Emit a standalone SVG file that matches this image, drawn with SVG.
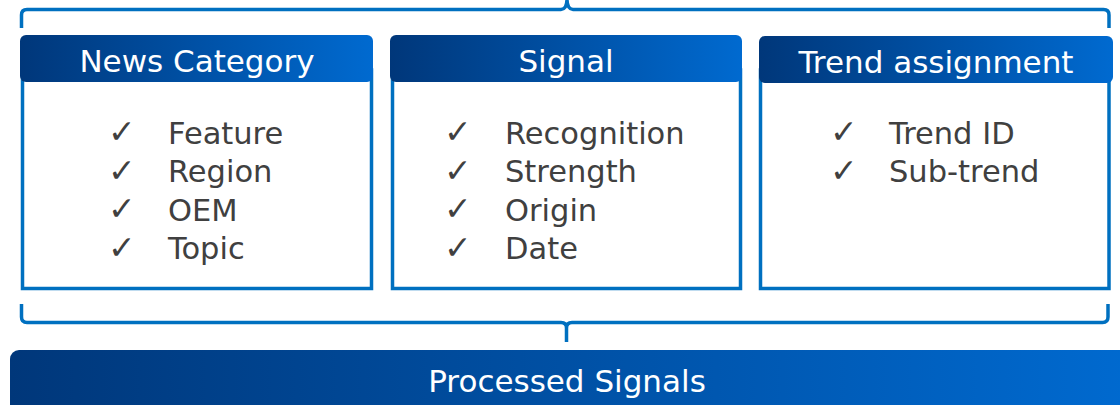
<svg xmlns="http://www.w3.org/2000/svg" width="1120" height="405" viewBox="0 0 1120 405">
  <defs>
    <linearGradient id="hdr" x1="0" y1="0" x2="1" y2="0">
      <stop offset="0" stop-color="#00377a"/>
      <stop offset="1" stop-color="#006ad0"/>
    </linearGradient>
    <style>
      .body { fill: #ffffff; stroke: #0070c0; stroke-width: 3.5; }
      .hdr { fill: url(#hdr); }
      .ht { font-family: "DejaVu Sans", Verdana, sans-serif; font-size: 31px; fill: #ffffff; text-anchor: middle; }
      .it { font-family: "DejaVu Sans", Verdana, sans-serif; font-size: 30.5px; fill: #404040; }
      .ck { font-family: "DejaVu Sans", sans-serif; font-size: 33px; fill: #404040; }
    </style>
    <style>
      .brace { fill: none; stroke: #0070c0; stroke-width: 3.5; stroke-linejoin: round; }
    </style>
  </defs>
  <rect width="1120" height="405" fill="#ffffff"/>

  <g id="connectors">
    <path class="brace" d="M21.5,28 V15 Q21.5,9.5 27,9.5 H561 Q566.5,9.5 567,0 M567,0 Q567.5,9.5 573,9.5 H1103.5 Q1109,9.5 1109,15 V28"/>
    <path class="brace" d="M21.5,304 V317 Q21.5,322.5 27,322.5 H561 Q566.5,322.5 566.5,328 V342 M566.5,328 Q566.5,322.5 572,322.5 H1102.5 Q1108,322.5 1108,317 V304"/>
  </g>

  <g id="news-category">
    <rect class="body" x="22.5" y="70" width="349" height="218.5"/>
    <rect class="hdr" x="20" y="35" width="353" height="47" rx="6"/>
    <text class="ht" x="197" y="72">News Category</text>
    <text class="ck" x="108" y="143">✓</text><text class="it" x="168" y="143.5">Feature</text>
    <text class="ck" x="108" y="181.5">✓</text><text class="it" x="168" y="182">Region</text>
    <text class="ck" x="108" y="220">✓</text><text class="it" x="168" y="220.5">OEM</text>
    <text class="ck" x="108" y="258.5">✓</text><text class="it" x="168" y="259">Topic</text>
  </g>

  <g id="signal">
    <rect class="body" x="392.5" y="70" width="348" height="218.5"/>
    <rect class="hdr" x="390" y="35" width="352" height="47" rx="6"/>
    <text class="ht" x="566" y="72">Signal</text>
    <text class="ck" x="444" y="143">✓</text><text class="it" x="505" y="143.5">Recognition</text>
    <text class="ck" x="444" y="181.5">✓</text><text class="it" x="505" y="182">Strength</text>
    <text class="ck" x="444" y="220">✓</text><text class="it" x="505" y="220.5">Origin</text>
    <text class="ck" x="444" y="258.5">✓</text><text class="it" x="505" y="259">Date</text>
  </g>

  <g id="trend-assignment">
    <rect class="body" x="760.5" y="70" width="348.5" height="218.5"/>
    <rect class="hdr" x="759" y="36" width="354" height="47" rx="6"/>
    <text class="ht" x="936" y="73">Trend assignment</text>
    <text class="ck" x="830" y="143">✓</text><text class="it" x="889" y="143.5">Trend ID</text>
    <text class="ck" x="830" y="181.5">✓</text><text class="it" x="889" y="182">Sub-trend</text>
  </g>

  <g id="processed-signals">
    <rect class="hdr" x="10" y="350" width="1125" height="70" rx="9"/>
    <text class="ht" x="567" y="391.5">Processed Signals</text>
  </g>
</svg>
